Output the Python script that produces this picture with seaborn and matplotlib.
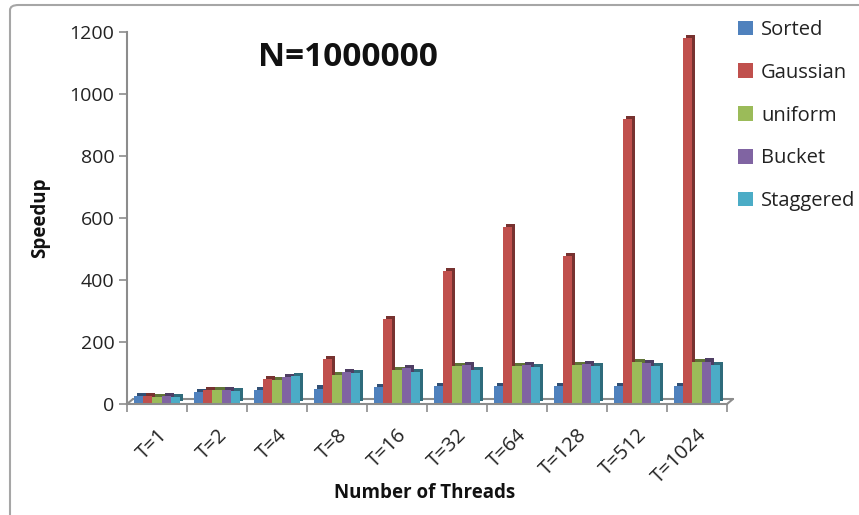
import numpy as np
import pandas as pd
import matplotlib
matplotlib.use("Agg")
import matplotlib.pyplot as plt
import matplotlib.patheffects as pe
import matplotlib.colors as mcolors
from matplotlib.patches import Patch, FancyBboxPatch
from matplotlib.transforms import ScaledTranslation
import seaborn as sns

# Speedup per thread count for each input distribution
threads = ["T=1", "T=2", "T=4", "T=8", "T=16", "T=32", "T=64", "T=128", "T=512", "T=1024"]
series_names = ["Sorted", "Gaussian", "uniform", "Bucket", "Staggered"]
sorted_vals = [26, 38, 45, 50, 55, 57, 57, 58, 58, 58]
gaussian_vals = [26, 46, 82, 145, 274, 429, 571, 477, 920, 1180]
uniform_vals = [24, 45, 76, 92, 110, 123, 124, 126, 136, 134]
bucket_vals = [25, 44, 86, 103, 116, 126, 127, 130, 131, 137]
staggered_vals = [24, 43, 91, 99, 104, 111, 118, 121, 123, 125]
palette = ["#4F81BD", "#C0504D", "#9BBB59", "#8064A2", "#4BACC6"]

values = [sorted_vals, gaussian_vals, uniform_vals, bucket_vals, staggered_vals]
df = pd.DataFrame({
    "threads": np.tile(threads, len(series_names)),
    "series": np.repeat(series_names, len(threads)),
    "speedup": np.concatenate(values),
})

sns.set_theme(style="white")
plt.rcParams["font.family"] = ["Open Sans", "DejaVu Sans"]

fig = plt.figure(figsize=(8.59, 5.15), dpi=100)
ax = fig.add_axes([127 / 859, 1 - 404 / 515, 600 / 859, 372 / 515])

sns.barplot(data=df, x="threads", y="speedup", hue="series", order=threads,
            hue_order=series_names, palette=palette, width=0.78, gap=0,
            saturation=1, edgecolor="none", legend=False, ax=ax, errorbar=None)

# extruded look: darker copy of each bar pushed up and to the right
for patch in ax.patches:
    rgb = np.array(mcolors.to_rgb(patch.get_facecolor()))
    dark = tuple(rgb * 0.62)
    patch.set_path_effects([
        pe.SimplePatchShadow(offset=(2.2, 2.2), shadow_rgbFace=dark, alpha=1.0),
        pe.Normal(),
    ])

axis_gray = "#8C8C8C"
ax.set_xlim(-0.5, len(threads) - 0.5)
ax.set_ylim(0, 1200)
ax.set_yticks(np.arange(0, 1201, 200))
ax.tick_params(axis="y", direction="out", length=6, width=1.2, color=axis_gray,
               labelsize=14, pad=3, left=True, labelcolor="#222222")
ax.set_xticks(range(len(threads)))
ax.set_xticklabels(threads, rotation=45, ha="right", rotation_mode="anchor")
ax.tick_params(axis="x", which="major", length=0, pad=15, labelsize=14.5,
               labelcolor="#222222")
ax.set_xticks(np.arange(-0.5, len(threads)), minor=True)
ax.tick_params(axis="x", which="minor", direction="out", length=6, width=1.2,
               color=axis_gray, bottom=True)
ax.set_xlabel("")
ax.set_ylabel("")

for side in ["top", "right"]:
    ax.spines[side].set_visible(False)
for side in ["left", "bottom"]:
    ax.spines[side].set_color(axis_gray)
    ax.spines[side].set_linewidth(1.5)

# floor outline behind the bars
shift = ScaledTranslation(6 / 100, 5 / 100, fig.dpi_scale_trans)
back = ax.transAxes + shift
ax.plot([0, 1], [0, 0], transform=back, color=axis_gray, lw=1.5, clip_on=False, zorder=0.5)
for x in (0, 1):
    ax.annotate("", xy=(x, 0), xycoords=back, xytext=(x, 0), textcoords=ax.transAxes,
                arrowprops=dict(arrowstyle="-", color=axis_gray, lw=1.5,
                                shrinkA=0, shrinkB=0), annotation_clip=False)

fig.text(348 / 859, 1 - 58 / 515, "N=1000000", ha="center", va="center",
         fontsize=24, fontweight="bold", color="#111111")
fig.text(40 / 859, 1 - 218 / 515, "Speedup", ha="center", va="center",
         rotation=90, fontsize=13.5, fontweight="bold", color="#111111")
fig.text(425 / 859, 1 - 493 / 515, "Number of Threads", ha="center", va="center",
         fontsize=13.5, fontweight="bold", color="#111111")

handles = [Patch(facecolor=c, edgecolor="none") for c in palette]
fig.legend(handles, series_names, loc="upper left",
           bbox_to_anchor=(728 / 859, 1 - 10 / 515), frameon=False,
           fontsize=14.5, handlelength=0.75, handleheight=0.75,
           handletextpad=0.4, labelspacing=1.13, borderpad=0,
           labelcolor="#222222")

# chart frame
fig.patches.append(FancyBboxPatch((10 / 859, -0.1), 1.1, 1 - 5 / 515 + 0.1,
                                  boxstyle="round,pad=0,rounding_size=0.01",
                                  transform=fig.transFigure, fill=False,
                                  edgecolor="#A6A6A6", lw=1.5))

fig.savefig("out.png", dpi=100)
